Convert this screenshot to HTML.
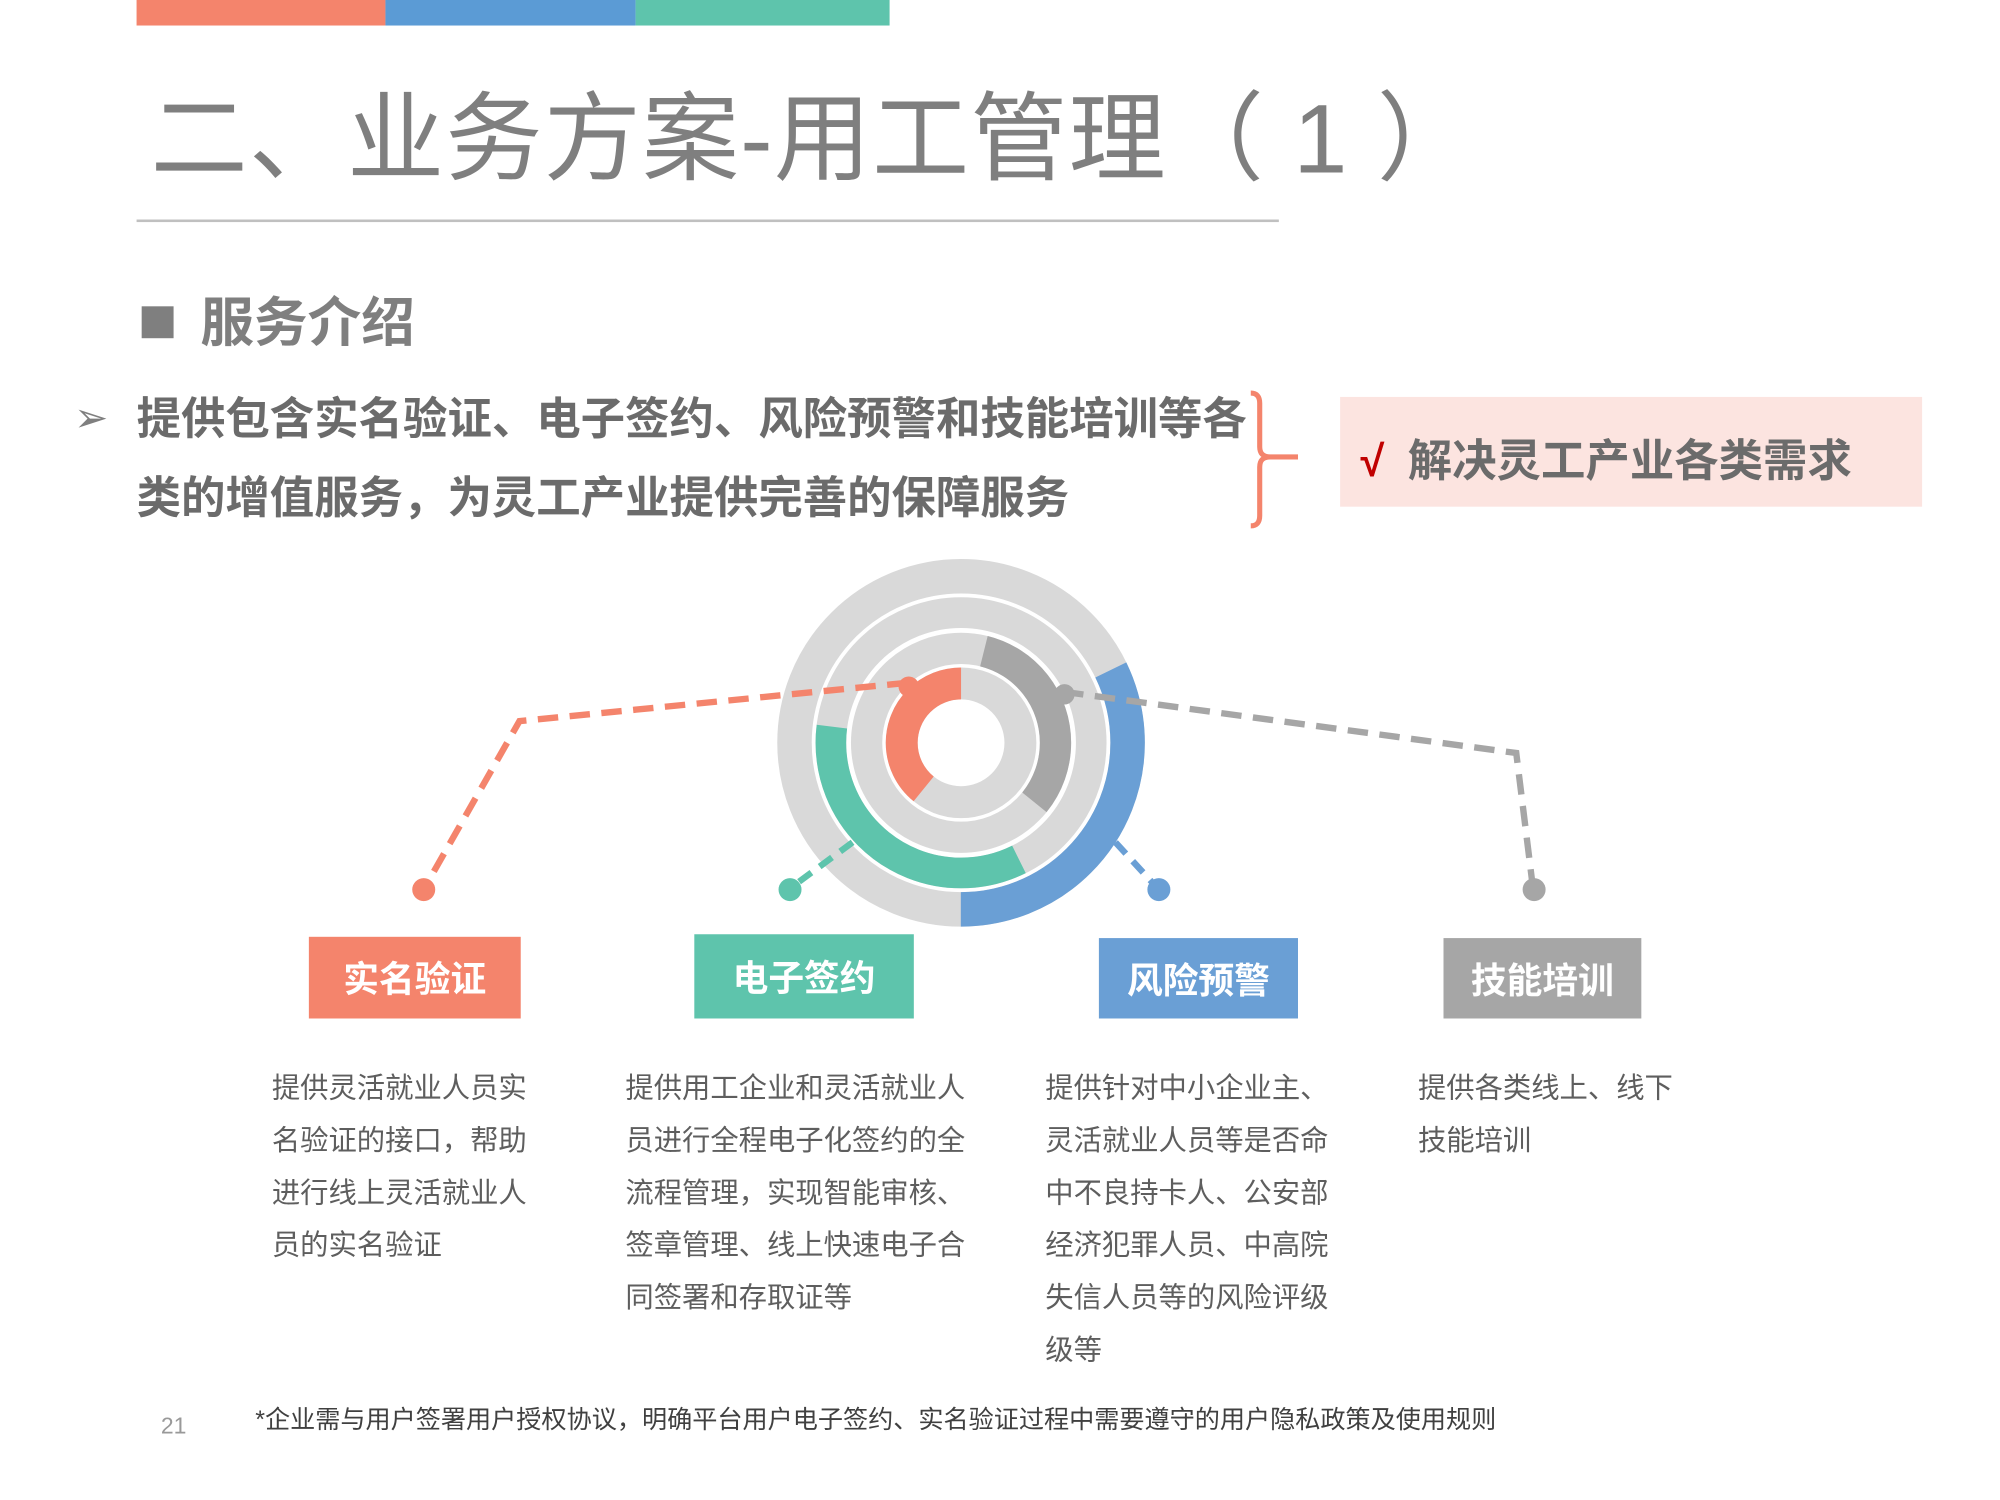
<!DOCTYPE html>
<html><head><meta charset="utf-8"><style>
html,body{margin:0;padding:0;background:#fff;}
body{width:2000px;height:1500px;overflow:hidden;position:relative;}
#w{position:absolute;left:0;top:0;width:1567px;height:1175px;transform:scale(1.2763);transform-origin:0 0;font-family:"Liberation Sans","Noto Sans CJK SC",sans-serif;}
.a{position:absolute;white-space:nowrap;}
.box{position:absolute;color:#fff;font-weight:bold;font-size:28px;display:flex;align-items:center;justify-content:center;}
.d{position:absolute;font-size:22.2px;line-height:41px;color:#5e5e5e;white-space:nowrap;}
</style></head><body><div id="w">
<div class="a" style="left:107px;top:0;width:195px;height:20px;background:#F4846C"></div>
<div class="a" style="left:302px;top:0;width:196px;height:20px;background:#5B9BD5"></div>
<div class="a" style="left:498px;top:0;width:199px;height:20px;background:#5EC4AC"></div>
<div class="a" style="left:118px;top:62px;font-size:76px;line-height:96px;color:#7f7f7f;letter-spacing:1px;">二、业务方案-用工管理（ 1 ）</div>
<div class="a" style="left:107px;top:172px;width:895px;height:2px;background:#c0c0c0"></div>
<div class="a" style="left:111px;top:240px;width:25px;height:25px;background:#7f7f7f"></div>
<div class="a" style="left:157px;top:228px;font-size:42px;line-height:50px;font-weight:bold;color:#7f7f7f;">服务介绍</div>
<div class="a" style="left:58px;top:308px;font-size:32px;color:#7f7f7f;">➢</div>
<div class="a" style="left:107px;top:298px;font-size:34.8px;line-height:62px;color:#6b6b6b;font-weight:bold;">提供包含实名验证、电子签约、风险预警和技能培训等各<br>类的增值服务，为灵工产业提供完善的保障服务</div>
<svg class="a" style="left:975px;top:300px" width="50" height="120"><path d="M5 8 Q12 8 12 16 L12 50 Q12 58 20 58 L42 58 M20 58 Q12 58 12 66 L12 104 Q12 112 5 112" fill="none" stroke="#F4846C" stroke-width="4"/></svg>
<div class="a" style="left:1050px;top:311px;width:456px;height:86px;background:#FCE4E0"></div>
<div class="a" style="left:1066px;top:339px;font-size:34px;line-height:46px;color:#C00000;font-weight:bold;">√</div>
<div class="a" style="left:1103px;top:339px;font-size:34.8px;line-height:46px;color:#6b6b6b;font-weight:bold;">解决灵工产业各类需求</div>
<svg class="a" style="left:0;top:0" width="1556" height="1167">
<g fill="none">
<circle cx="753" cy="582" r="130.5" stroke="#D9D9D9" stroke-width="27"/>
<circle cx="753" cy="582" r="102" stroke="#D9D9D9" stroke-width="24"/>
<circle cx="753" cy="582" r="74" stroke="#D9D9D9" stroke-width="24.5"/>
<circle cx="753" cy="582" r="46.5" stroke="#D9D9D9" stroke-width="25"/>
<g transform="rotate(-90 753 582)">
<circle cx="753" cy="582" r="130.5" stroke="#6A9FD5" stroke-width="27" stroke-dasharray="264.2 1000" stroke-dashoffset="-145.8"/>
<circle cx="753" cy="582" r="102" stroke="#5EC4AC" stroke-width="24" stroke-dasharray="219.9 1000" stroke-dashoffset="-273.3"/>
<circle cx="753" cy="582" r="74" stroke="#A6A6A6" stroke-width="24.5" stroke-dasharray="148.5 1000" stroke-dashoffset="-18.1"/>
<circle cx="753" cy="582" r="46.5" stroke="#F4846C" stroke-width="25" stroke-dasharray="130.7 1000" stroke-dashoffset="-177.7"/>
</g>
<polyline points="711,535 407,565 333,695" stroke="#F4846C" stroke-width="5" stroke-dasharray="16 9"/>
<polyline points="833,542 1188,590 1201,695" stroke="#A6A6A6" stroke-width="5" stroke-dasharray="16 9"/>
<line x1="668" y1="660" x2="619" y2="696" stroke="#5EC4AC" stroke-width="5" stroke-dasharray="12 8"/>
<line x1="874" y1="660" x2="907" y2="696" stroke="#6A9FD5" stroke-width="5" stroke-dasharray="12 8"/>
</g>
<circle cx="712" cy="538" r="8" fill="#F4846C"/>
<circle cx="834" cy="544" r="8" fill="#A6A6A6"/>
<circle cx="332" cy="697" r="9" fill="#F4846C"/>
<circle cx="619" cy="697" r="9" fill="#5EC4AC"/>
<circle cx="908" cy="697" r="9" fill="#6A9FD5"/>
<circle cx="1202" cy="697" r="9" fill="#A6A6A6"/>
</svg>
<div class="box" style="left:242px;top:734px;width:166px;height:64px;background:#F4846C">实名验证</div>
<div class="box" style="left:544px;top:732px;width:172px;height:66px;background:#5EC4AC">电子签约</div>
<div class="box" style="left:861px;top:735px;width:156px;height:63px;background:#6A9FD5">风险预警</div>
<div class="box" style="left:1131px;top:735px;width:155px;height:63px;background:#A6A6A6">技能培训</div>
<div class="d" style="left:213px;top:832px">提供灵活就业人员实<br>名验证的接口，帮助<br>进行线上灵活就业人<br>员的实名验证</div>
<div class="d" style="left:490px;top:832px">提供用工企业和灵活就业人<br>员进行全程电子化签约的全<br>流程管理，实现智能审核、<br>签章管理、线上快速电子合<br>同签署和存取证等</div>
<div class="d" style="left:819px;top:832px">提供针对中小企业主、<br>灵活就业人员等是否命<br>中不良持卡人、公安部<br>经济犯罪人员、中高院<br>失信人员等的风险评级<br>级等</div>
<div class="d" style="left:1111px;top:832px">提供各类线上、线下<br>技能培训</div>
<div class="a" style="left:126px;top:1107px;font-size:18px;color:#999">21</div>
<div class="a" style="left:200px;top:1100px;font-size:19.7px;line-height:26px;color:#404040">*企业需与用户签署用户授权协议，明确平台用户电子签约、实名验证过程中需要遵守的用户隐私政策及使用规则</div>
</div></body></html>
